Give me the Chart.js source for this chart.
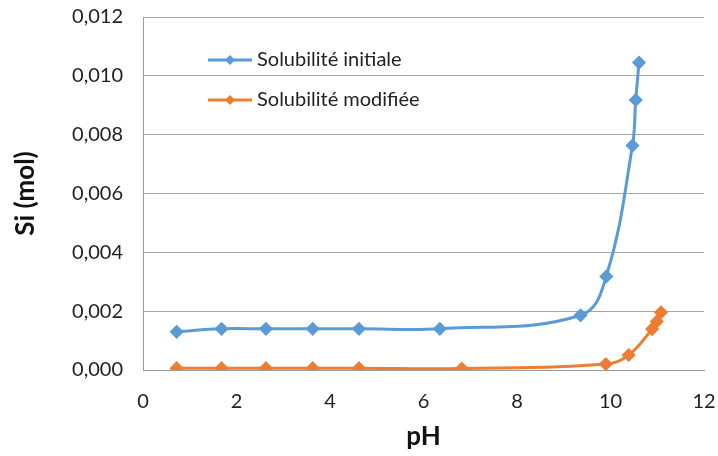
<!DOCTYPE html>
<html>
<head>
<meta charset="utf-8">
<script src="https://cdn.jsdelivr.net/npm/chart.js@4"></script>
<style>
  body { margin: 0; background: #fff; }
  #wrap { width: 718px; height: 456px; }
</style>
</head>
<body>
<div id="wrap"><canvas id="myCanvas" width="718" height="456"></canvas></div>
<script>
// valeurs
let phInitiale = [0.72, 1.68, 2.63, 3.63, 4.62, 6.35, 9.36, 9.91, 10.47, 10.54, 10.61];
let siInitiale = [0.0013, 0.0014, 0.0014, 0.0014, 0.0014, 0.0014, 0.00186, 0.00318, 0.00763, 0.00918, 0.01045];
let phModifiee = [0.72, 1.68, 2.63, 3.63, 4.62, 6.82, 9.9, 10.39, 10.89, 10.99, 11.08];
let siModifiee = [0.00006, 0.00006, 0.00006, 0.00006, 0.00006, 0.00005, 0.0002, 0.00051, 0.00139, 0.00165, 0.00196];
let labels = ["Solubilité initiale", "Solubilité modifiée"];
let couleurs = ["#5B9BD5", "#ED7D31"];

function points(xs, ys) {
  return xs.map((x, i) => ({ x: x, y: ys[i] }));
}

// petite légende dessinée dans la zone du graphique, comme sur l'original
let legendePlugin = {
  id: "legendeInterne",
  afterDraw(chart) {
    let ctx = chart.ctx;
    chart.data.datasets.forEach((ds, i) => {
      let y = 60 + i * 40;
      ctx.save();
      ctx.strokeStyle = ds.borderColor;
      ctx.lineWidth = 3;
      ctx.beginPath();
      ctx.moveTo(208, y);
      ctx.lineTo(252, y);
      ctx.stroke();
      ctx.fillStyle = ds.borderColor;
      ctx.beginPath();
      ctx.moveTo(230, y - 5);
      ctx.lineTo(235, y);
      ctx.lineTo(230, y + 5);
      ctx.lineTo(225, y);
      ctx.closePath();
      ctx.fill();
      ctx.fillStyle = "#222";
      ctx.font = "20px Lato";
      ctx.textBaseline = "middle";
      ctx.fillText(ds.label, 257, y);
      ctx.restore();
    });
  },
};

let myCanvas = document.getElementById("myCanvas").getContext("2d");
let chart = new Chart(myCanvas, {
  type: "line",
  data: {
    datasets: [
      {
        label: labels[0],
        data: points(phInitiale, siInitiale),
        borderColor: couleurs[0],
        backgroundColor: couleurs[0],
        borderWidth: 3,
        pointStyle: "rectRot",
        pointRadius: 5,
        tension: 0.4,
      },
      {
        label: labels[1],
        data: points(phModifiee, siModifiee),
        borderColor: couleurs[1],
        backgroundColor: couleurs[1],
        borderWidth: 3,
        pointStyle: "rectRot",
        pointRadius: 5,
        tension: 0.4,
      },
    ],
  },
  options: {
    responsive: false,
    animation: false,
    layout: { padding: { top: 17, right: 14, left: 0, bottom: 0 } },
    plugins: {
      legend: { display: false },
      tooltip: { enabled: false },
    },
    scales: {
      x: {
        type: "linear",
        min: 0,
        max: 12,
        ticks: {
          stepSize: 2,
          color: "#222",
          font: { family: "Lato", size: 20 },
          padding: 20,
        },
        grid: { display: false, drawTicks: false },
        border: { color: "#9a9a9a", width: 1 },
        title: {
          display: true,
          text: "pH",
          color: "#111",
          font: { family: "Lato", size: 26, weight: "bold" },
          padding: { top: 0, bottom: 4 },
        },
        afterFit(scale) {
          scale.height = 86;
          scale.paddingLeft = 0;
          scale.paddingRight = 0;
        },
      },
      y: {
        min: 0,
        max: 0.012,
        ticks: {
          stepSize: 0.002,
          color: "#222",
          font: { family: "Lato", size: 20 },
          padding: 20,
          callback: (v) => v.toFixed(3).replace(".", ","),
        },
        grid: { color: "#a6a6a6", lineWidth: 1, drawTicks: false },
        border: { color: "#9a9a9a", width: 1 },
        title: {
          display: true,
          text: "Si (mol)",
          color: "#111",
          font: { family: "Lato", size: 26, weight: "bold" },
          padding: { top: 10, bottom: 0 },
        },
        afterFit(scale) {
          scale.width = 143;
          scale.paddingTop = 0;
          scale.paddingBottom = 0;
        },
      },
    },
  },
  plugins: [legendePlugin],
});
</script>
</body>
</html>
